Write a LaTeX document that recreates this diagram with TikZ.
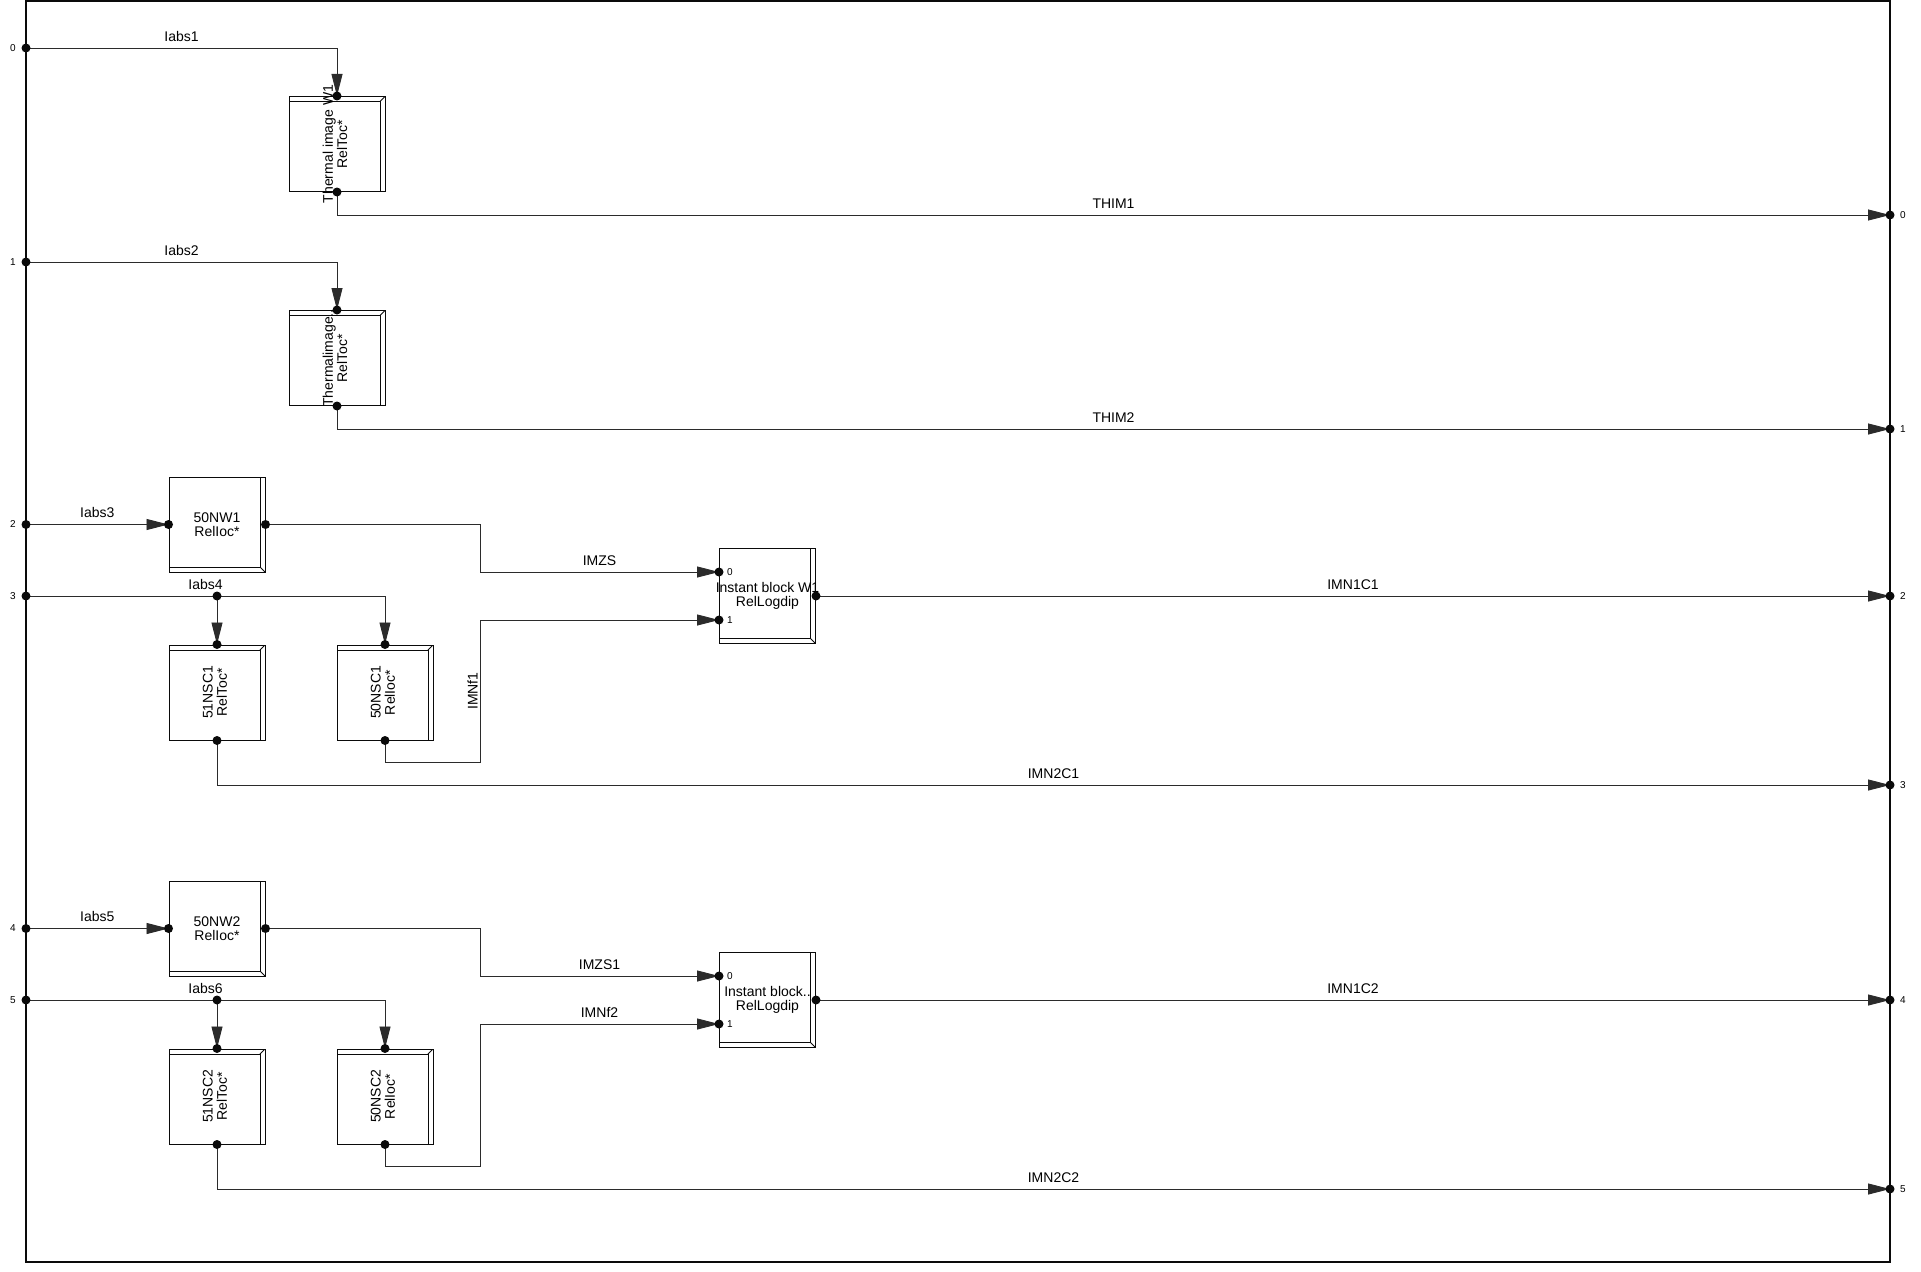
\documentclass[tikz,border=0pt]{standalone}
\usepackage{fontspec}
\setmainfont{Liberation Sans}
\usetikzlibrary{arrows.meta,positioning,calc}
\definecolor{pfink}{HTML}{0A0A0A}
\definecolor{pfwire}{HTML}{2B2B2B}
\newcommand{\vtext}[2]{\rotatebox{90}{\begin{tabular}{@{}c@{}}\makebox[70pt]{#1}\\#2\end{tabular}}}
\tikzset{
  blkh/.style={draw=pfink, line width=1pt, minimum width=96pt, minimum height=95pt, inner sep=0pt, align=center, font=\fontsize{14}{14}\selectfont,
    path picture={\draw[line width=0.9pt] ([xshift=-5pt]path picture bounding box.north east) -- ([xshift=-5pt,yshift=5pt]path picture bounding box.south east) -- ([yshift=5pt]path picture bounding box.south west);
      \draw[line width=0.9pt] ([xshift=-5pt,yshift=5pt]path picture bounding box.south east) -- (path picture bounding box.south east);}},
  blkv/.style={draw=pfink, line width=1pt, minimum width=96pt, minimum height=95pt, inner sep=0pt, font=\fontsize{14}{14}\selectfont,
    path picture={\draw[line width=0.9pt] ([yshift=-5pt]path picture bounding box.north west) -- ([xshift=-5pt,yshift=-5pt]path picture bounding box.north east) -- ([xshift=-5pt]path picture bounding box.south east);
      \draw[line width=0.9pt] ([xshift=-5pt,yshift=-5pt]path picture bounding box.north east) -- (path picture bounding box.north east);}},
  wire/.style={draw=pfwire, line width=0.9pt},
  sig/.style={wire, -{Triangle[length=22pt,width=11pt]}},
  pin/.style={circle, fill=pfink, inner sep=0pt, minimum size=9pt},
  lbl/.style={font=\fontsize{14}{15}\selectfont, inner sep=2pt},
  pnum/.style={font=\fontsize{10}{11}\selectfont, inner sep=1pt},
}
\begin{document}
\begin{tikzpicture}[x=1pt, y=-1pt]
    \useasboundingbox (0,0) rectangle (1921,1271);
    \draw[pfink, line width=2.2pt] (26,1) rectangle (1890,1262);
    % frame pins
    \coordinate (in0) at (26,48);
    \coordinate (in1) at (26,262);
    \coordinate (in2) at (26,524.5);
    \coordinate (in3) at (26,596);
    \coordinate (in4) at (26,928.5);
    \coordinate (in5) at (26,1000);
    \coordinate (out0) at (1890,215);
    \coordinate (out1) at (1890,429);
    \coordinate (out2) at (1890,596);
    \coordinate (out3) at (1890,785);
    \coordinate (out4) at (1890,1000);
    \coordinate (out5) at (1890,1189);
    \coordinate (jog) at (480,0);
    \coordinate (ret1) at (0,762);
    \coordinate (ret2) at (0,1166);
    % blocks
    \node[blkv] (th1) at (337,144) {\vtext{Thermal image W1}{RelToc*}};
    \node[blkv] (th2) at (337,358) {\vtext{Thermalimage..}{RelToc*}};
    \node[blkh] (nw1) at (217,524.5) {50NW1\\RelIoc*};
    \node[blkv, below=72pt of nw1] (sc51a) {\vtext{51NSC1}{RelToc*}};
    \node[blkv, right=71pt of sc51a] (sc50a) {\vtext{50NSC1}{RelIoc*}};
    \node[blkh] (inst1) at (767.5,596) {\makebox[80pt]{Instant block W1}\\RelLogdip};
    \node[blkh] (nw2) at (217,928.5) {50NW2\\RelIoc*};
    \node[blkv, below=72pt of nw2] (sc51b) {\vtext{51NSC2}{RelToc*}};
    \node[blkv, right=71pt of sc51b] (sc50b) {\vtext{50NSC2}{RelIoc*}};
    \node[blkh] (inst2) at (767.5,1000) {\makebox[80pt]{Instant block..}\\RelLogdip};
    \coordinate (i1a) at ([yshift=24pt]inst1.west);
    \coordinate (i1b) at ([yshift=-24pt]inst1.west);
    \coordinate (i2a) at ([yshift=24pt]inst2.west);
    \coordinate (i2b) at ([yshift=-24pt]inst2.west);
    \coordinate (j1) at (sc51a.north |- in3);
    \coordinate (j2) at (sc51b.north |- in5);
    % thermal images
    \draw[sig] (in0) -| node[pos=.25, above=4pt, lbl] {Iabs1} (th1.north);
    \draw[sig] (th1.south) |- node[pos=.75, above=4pt, lbl] {THIM1} (out0);
    \draw[sig] (in1) -| node[pos=.25, above=4pt, lbl] {Iabs2} (th2.north);
    \draw[sig] (th2.south) |- node[pos=.75, above=4pt, lbl] {THIM2} (out1);
    % winding 1
    \draw[sig] (in2) -- node[above=4pt, lbl] {Iabs3} (nw1.west);
    \draw[sig] (nw1.east) -| (jog |- i1a) -- node[above=4pt, lbl] {IMZS} (i1a);
    \draw[sig] (in3) -| node[pos=.25, above=4pt, lbl] {Iabs4} (sc50a.north);
    \draw[sig] (j1) -- (sc51a.north);
    \draw[sig] (sc50a.south) |- (jog |- ret1) |- node[pos=.25, rotate=90, anchor=south, lbl] {IMNf1} (i1b);
    \draw[sig] (inst1.east) -- node[above=4pt, lbl] {IMN1C1} (out2);
    \draw[sig] (sc51a.south) |- node[pos=.75, above=4pt, lbl] {IMN2C1} (out3);
    % winding 2
    \draw[sig] (in4) -- node[above=4pt, lbl] {Iabs5} (nw2.west);
    \draw[sig] (nw2.east) -| (jog |- i2a) -- node[above=4pt, lbl] {IMZS1} (i2a);
    \draw[sig] (in5) -| node[pos=.25, above=4pt, lbl] {Iabs6} (sc50b.north);
    \draw[sig] (j2) -- (sc51b.north);
    \draw[sig] (sc50b.south) |- (jog |- ret2) |- node[pos=.75, above=4pt, lbl] {IMNf2} (i2b);
    \draw[sig] (inst2.east) -- node[above=4pt, lbl] {IMN1C2} (out4);
    \draw[sig] (sc51b.south) |- node[pos=.75, above=4pt, lbl] {IMN2C2} (out5);
    % pin dots
    \foreach \p [count=\k] in {in0,in1,in2,in3,in4,in5,out0,out1,out2,out3,out4,out5,
        th1.north,th1.south,th2.north,th2.south,nw1.west,nw1.east,sc51a.north,sc51a.south,
        sc50a.north,sc50a.south,i1a,i1b,inst1.east,j1,nw2.west,nw2.east,sc51b.north,
        sc51b.south,sc50b.north,sc50b.south,i2a,i2b,inst2.east,j2}
      \node[pin] (dot\k) at (\p) {};
    % pin numbers
    \foreach \k in {0,...,5} {
      \node[pnum, left=9pt of in\k] (nin\k) {\k};
      \node[pnum, right=9pt of out\k] (nout\k) {\k};
    }
    \node[pnum, anchor=west] (n1a) at ([xshift=7pt]i1a) {0};
    \node[pnum, anchor=west] (n1b) at ([xshift=7pt]i1b) {1};
    \node[pnum, anchor=west] (n2a) at ([xshift=7pt]i2a) {0};
    \node[pnum, anchor=west] (n2b) at ([xshift=7pt]i2b) {1};
  \end{tikzpicture}
\end{document}
